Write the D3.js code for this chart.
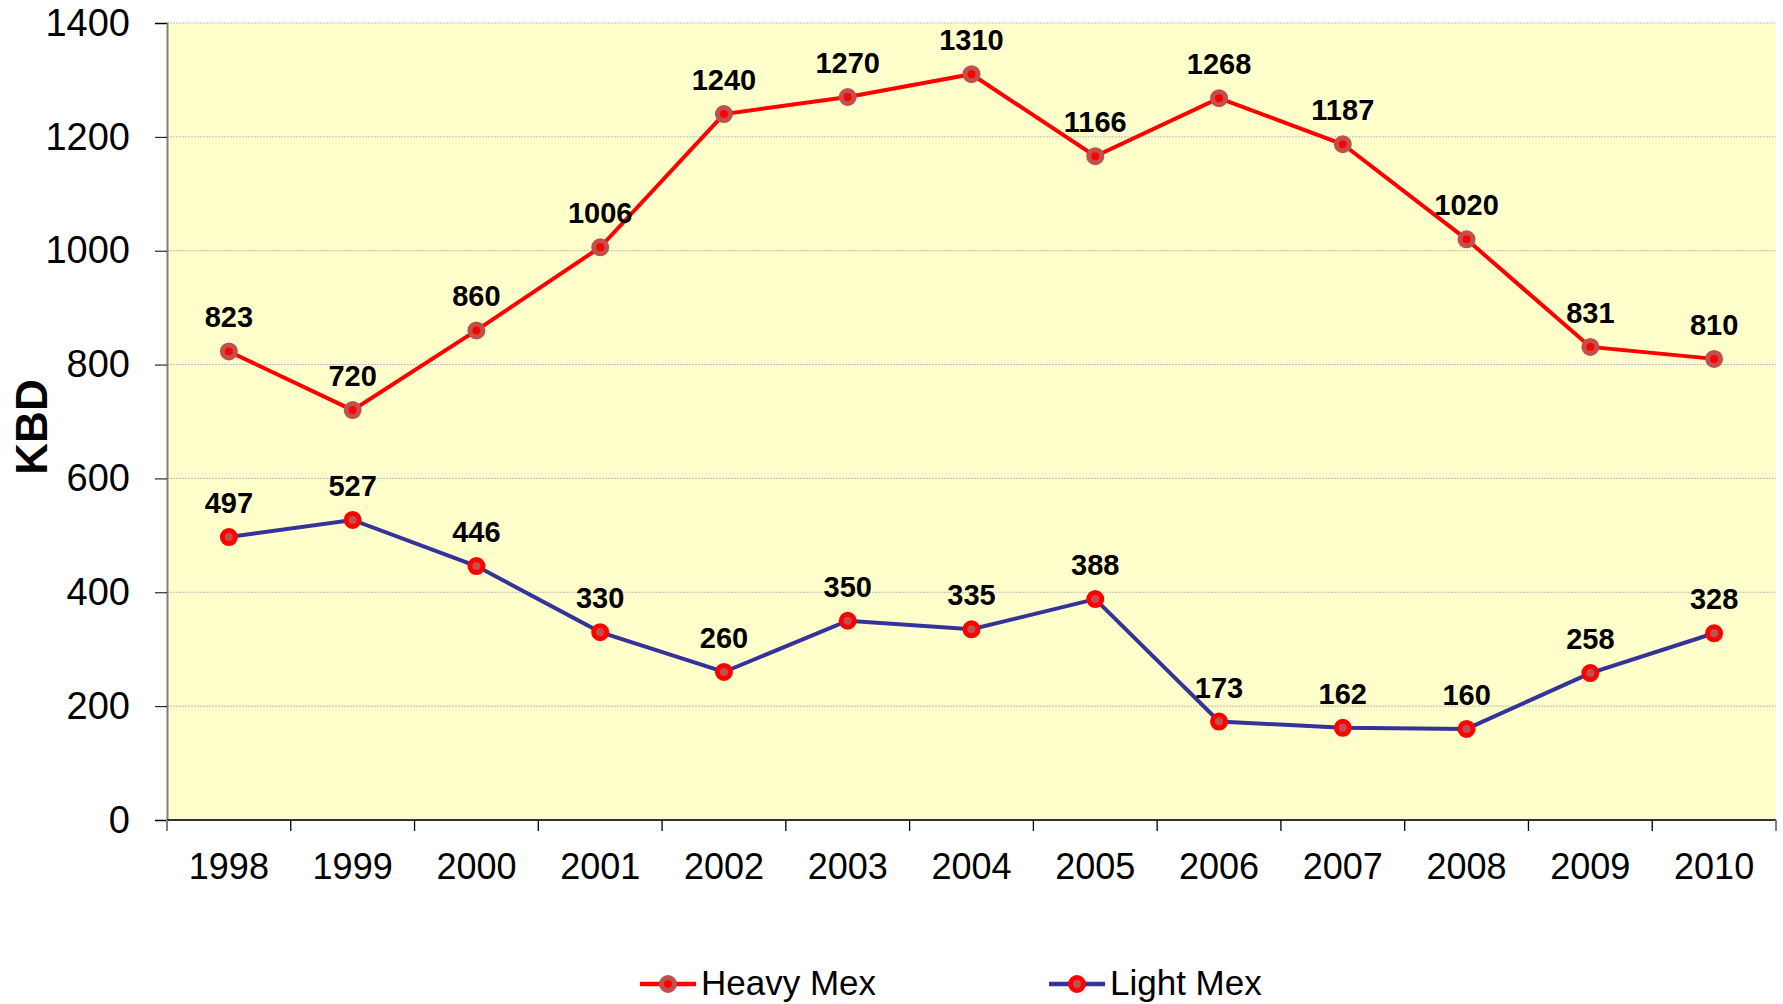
<!DOCTYPE html>
<html>
<head>
<meta charset="utf-8">
<script src="https://cdn.jsdelivr.net/npm/d3@7"></script>
<style>
  body { margin: 0; background: #fff; }
  text { font-family: Arial, "Liberation Sans", sans-serif; }
</style>
</head>
<body>
<div id="chart"></div>
<script>
const years = ["1998", "1999", "2000", "2001", "2002", "2003", "2004", "2005", "2006", "2007", "2008", "2009", "2010"];
const heavyMex = [823, 720, 860, 1006, 1240, 1270, 1310, 1166, 1268, 1187, 1020, 831, 810];
const lightMex = [497, 527, 446, 330, 260, 350, 335, 388, 173, 162, 160, 258, 328];
const yTicks = [0, 200, 400, 600, 800, 1000, 1200, 1400];

const width = 1783;
const height = 1004;
const margin = { left: 167, right: 7, top: 23, bottom: 184 };

const svg = d3.select("#chart").append("svg")
    .attr("width", width)
    .attr("height", height);

const x = d3.scaleBand()
    .domain(years)
    .range([margin.left, width - margin.right]);

const y = d3.scaleLinear()
    .domain([0, 1400])
    .range([height - margin.bottom, margin.top]);

// plot background
svg.append("rect")
    .attr("x", margin.left)
    .attr("y", margin.top)
    .attr("width", width - margin.left - margin.right)
    .attr("height", height - margin.top - margin.bottom)
    .attr("fill", "#ffffcc");

// gridlines
svg.append("g")
    .selectAll("line")
    .data(yTicks.filter(d => d > 0))
    .enter().append("line")
    .attr("x1", margin.left)
    .attr("x2", width - margin.right)
    .attr("y1", d => y(d))
    .attr("y2", d => y(d))
    .attr("stroke", "#bdbdbd")
    .attr("stroke-width", 1)
    .attr("stroke-dasharray", "2,1");

// y axis
const yAxis = svg.append("g")
    .attr("transform", "translate(" + margin.left + ",0)")
    .call(d3.axisLeft(y).tickValues(yTicks).tickFormat(d3.format("d")).tickSize(12).tickPadding(25));
yAxis.select(".domain").attr("stroke", "#808080").attr("stroke-width", 2);
yAxis.selectAll(".tick line").attr("stroke", "#000");
yAxis.selectAll("text")
    .attr("font-size", 38)
    .attr("fill", "#000")
    .attr("font-family", "Arial, 'Liberation Sans', sans-serif");

// x axis (ticks between categories)
const xAxis = svg.append("g")
    .attr("transform", "translate(0," + y(0) + ")");
xAxis.append("line")
    .attr("x1", margin.left)
    .attr("x2", width - margin.right)
    .attr("stroke", "#333")
    .attr("stroke-width", 2);
xAxis.selectAll(".sep")
    .data(years.concat(["end"]))
    .enter().append("line")
    .attr("class", "sep")
    .attr("x1", (d, i) => i < years.length ? x(d) : x(years[years.length - 1]) + x.bandwidth())
    .attr("x2", (d, i) => i < years.length ? x(d) : x(years[years.length - 1]) + x.bandwidth())
    .attr("y1", 0)
    .attr("y2", 11)
    .attr("stroke", (d, i) => (i === 0 || i === years.length) ? "#808080" : "#000")
    .attr("stroke-width", (d, i) => (i === 0 || i === years.length) ? 2 : 1.3);
xAxis.selectAll(".lbl")
    .data(years)
    .enter().append("text")
    .attr("class", "lbl")
    .attr("x", d => x(d) + x.bandwidth() / 2)
    .attr("y", 59)
    .attr("text-anchor", "middle")
    .attr("font-size", 36)
    .attr("fill", "#000")
    .text(d => d);

// y title
svg.append("text")
    .attr("transform", "translate(47,427) rotate(-90)")
    .attr("text-anchor", "middle")
    .attr("font-size", 44)
    .attr("font-weight", "bold")
    .attr("fill", "#000")
    .text("KBD");

const series = [
    { name: "Heavy Mex", values: heavyMex, line: "#ff0000", fill: "#ff0000", ring: "#c0504d" },
    { name: "Light Mex", values: lightMex, line: "#333399", fill: "#c0504d", ring: "#ff0000" }
];

const line = d3.line()
    .x((d, i) => x(years[i]) + x.bandwidth() / 2)
    .y(d => y(d));

series.forEach(s => {
    const g = svg.append("g");
    g.append("path")
        .datum(s.values)
        .attr("d", line)
        .attr("fill", "none")
        .attr("stroke", s.line)
        .attr("stroke-width", 4);
    g.selectAll("circle")
        .data(s.values)
        .enter().append("circle")
        .attr("cx", (d, i) => x(years[i]) + x.bandwidth() / 2)
        .attr("cy", d => y(d))
        .attr("r", 6.5)
        .attr("fill", s.fill)
        .attr("stroke", s.ring)
        .attr("stroke-width", 5);
    g.selectAll("text")
        .data(s.values)
        .enter().append("text")
        .attr("x", (d, i) => x(years[i]) + x.bandwidth() / 2)
        .attr("y", d => y(d) - 24)
        .attr("text-anchor", "middle")
        .attr("font-size", 29)
        .attr("font-weight", "bold")
        .attr("fill", "#000")
        .text(d => d);
});

// legend
const legendX = [640, 1049];
const legend = svg.append("g");
series.forEach((s, i) => {
    const lg = legend.append("g").attr("transform", "translate(" + legendX[i] + ",984)");
    lg.append("line")
        .attr("x1", 0).attr("x2", 56)
        .attr("stroke", s.line)
        .attr("stroke-width", 4.5);
    lg.append("circle")
        .attr("cx", 28).attr("r", 6.5)
        .attr("fill", s.fill)
        .attr("stroke", s.ring)
        .attr("stroke-width", 5);
    lg.append("text")
        .attr("x", 61)
        .attr("y", 11)
        .attr("font-size", 35)
        .attr("fill", "#000")
        .text(s.name);
});
</script>
</body>
</html>
